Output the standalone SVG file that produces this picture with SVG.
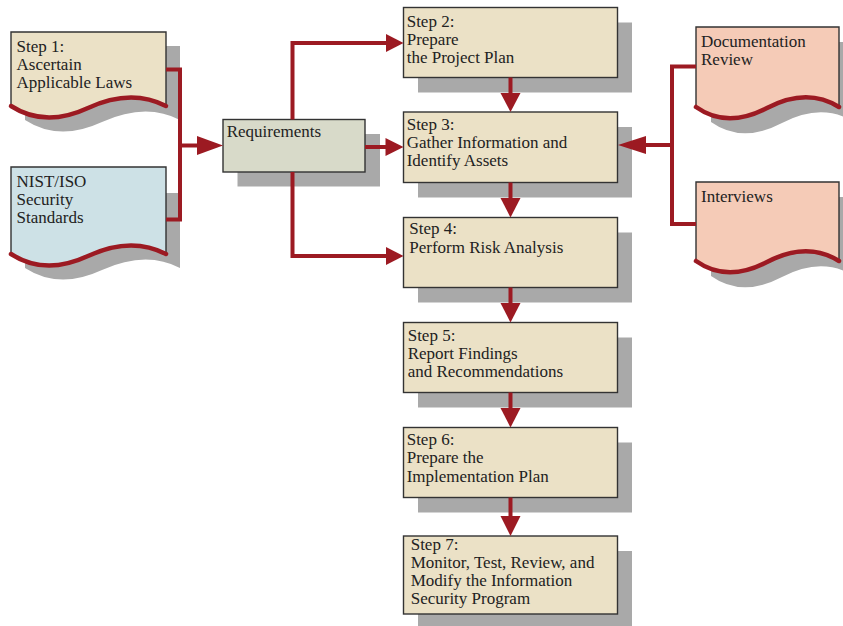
<svg xmlns="http://www.w3.org/2000/svg" width="843" height="626" viewBox="0 0 843 626">
<style>
.sh{fill:#a9a9a9}
.step{fill:#ebe1c6;stroke:#333;stroke-width:1.4}
.req{fill:#d8dac9;stroke:#333;stroke-width:1.4}
.ol{fill:none;stroke:#333;stroke-width:1.4}
.wave{fill:none;stroke:#9c1a22;stroke-width:4.5;stroke-linecap:round}
.beige{fill:#ebe1c6}
.blue{fill:#cde1e6}
.pink{fill:#f5cbb7}
text{font-family:"Liberation Serif","Times New Roman",serif;font-size:17px;fill:#222}
.ln{fill:none;stroke:#9c1a22;stroke-width:4}
.ah{fill:#9c1a22}
</style>
<rect width="843" height="626" fill="#fff"/>
<g id="step1">
<path class="sh" d="M25,46 H180 V120 Q146,102 102,122 Q59,142 25,120 Z"/>
<path class="beige" d="M11,106 V32 H166 V106 Q131,88 88,108 Q45,128 11,106 Z"/>
<path class="ol" d="M11,106 V32 H166 V106"/>
<path class="wave" d="M11,106 Q45,128 88,108 T166,106"/>
<text x="16.5" y="52.3">Step 1:</text>
<text x="16.5" y="70">Ascertain</text>
<text x="16.5" y="88.3">Applicable Laws</text>
</g>
<g id="nist">
<path class="sh" d="M25,193 H180 V268 Q146,250 102,270 Q59,290 25,268 Z"/>
<path class="blue" d="M11,254 V167 H166 V254 Q131,236 88,256 Q45,276 11,254 Z"/>
<path class="ol" d="M11,254 V167 H166 V254"/>
<path class="wave" d="M11,254 Q45,276 88,256 T166,254"/>
<text x="16.5" y="186.7">NIST/ISO</text>
<text x="16.5" y="205">Security</text>
<text x="16.5" y="222.7">Standards</text>
</g>
<g id="requirements">
<rect class="sh" x="237.5" y="134" width="142.5" height="52.5"/>
<rect class="req" x="223" y="119.5" width="142" height="52.5"/>
<text x="226.7" y="137.3">Requirements</text>
</g>
<g id="step2">
<rect class="sh" x="418" y="22.5" width="214" height="70"/>
<rect class="step" x="403.5" y="7.5" width="214" height="70"/>
<text x="406.7" y="26.7">Step 2:</text>
<text x="406.7" y="45">Prepare</text>
<text x="406.7" y="62.7">the Project Plan</text>
</g>
<g id="step3">
<rect class="sh" x="418" y="127" width="214" height="70.5"/>
<rect class="step" x="403.5" y="112" width="214" height="70.5"/>
<text x="406.7" y="130">Step 3:</text>
<text x="406.7" y="148.3">Gather Information and</text>
<text x="406.7" y="166">Identify Assets</text>
</g>
<g id="step4">
<rect class="sh" x="418" y="232.5" width="214" height="70"/>
<rect class="step" x="403.5" y="217.5" width="214" height="70"/>
<text x="409.3" y="234.3">Step 4:</text>
<text x="409.3" y="252.7">Perform Risk Analysis</text>
</g>
<g id="step5">
<rect class="sh" x="418" y="337.5" width="214" height="70"/>
<rect class="step" x="403.5" y="322.5" width="214" height="70"/>
<text x="407.7" y="340.7">Step 5:</text>
<text x="407.7" y="359">Report Findings</text>
<text x="407.7" y="376.7">and Recommendations</text>
</g>
<g id="step6">
<rect class="sh" x="418" y="442.5" width="214" height="70"/>
<rect class="step" x="403.5" y="427.5" width="214" height="70"/>
<text x="406.7" y="445">Step 6:</text>
<text x="406.7" y="463.3">Prepare the</text>
<text x="406.7" y="481.7">Implementation Plan</text>
</g>
<g id="step7">
<rect class="sh" x="418" y="551" width="214" height="78"/>
<rect class="step" x="403.5" y="536" width="214" height="78"/>
<text x="410.7" y="550">Step 7:</text>
<text x="410.7" y="568.3">Monitor, Test, Review, and</text>
<text x="410.7" y="586">Modify the Information</text>
<text x="410.7" y="604">Security Program</text>
</g>
<g id="docreview">
<path class="sh" d="M711,42 H854 V122 Q822,102 782,123 Q742,144 711,122 Z"/>
<path class="pink" d="M696,107 V27 H839 V107 Q807,87 767,108 Q727,129 696,107 Z"/>
<path class="ol" d="M696,107 V27 H839 V107"/>
<path class="wave" d="M696,107 Q727,129 767,108 T839,107"/>
<text x="701" y="47.3">Documentation</text>
<text x="701" y="65">Review</text>
</g>
<g id="interviews">
<path class="sh" d="M711,197 H854 V276 Q822,256 782,277 Q742,298 711,276 Z"/>
<path class="pink" d="M696,261 V182 H839 V261 Q807,241 767,262 Q727,283 696,261 Z"/>
<path class="ol" d="M696,261 V182 H839 V261"/>
<path class="wave" d="M696,261 Q727,283 767,262 T839,261"/>
<text x="701" y="201.7">Interviews</text>
</g>
<g id="connectors">
<path class="ln" d="M166,69.5 H180 V219.5 H166"/>
<path class="ln" d="M180,145.5 H199"/>
<polygon class="ah" points="197,136 223,145.5 197,155"/>
<path class="ln" d="M292.5,119.5 V43 H388"/>
<polygon class="ah" points="386,34 403.5,43 386,52"/>
<path class="ln" d="M365,147 H387"/>
<polygon class="ah" points="385.5,138 403.5,147 385.5,156"/>
<path class="ln" d="M292.5,172 V256 H388"/>
<polygon class="ah" points="386,247 403.5,256 386,265"/>
<path class="ln" d="M510.5,77.5 V95"/>
<polygon class="ah" points="500.5,93 520.5,93 510.5,112"/>
<path class="ln" d="M510.5,182.5 V200"/>
<polygon class="ah" points="500.5,198 520.5,198 510.5,217.5"/>
<path class="ln" d="M510.5,287.5 V305"/>
<polygon class="ah" points="500.5,303 520.5,303 510.5,322.5"/>
<path class="ln" d="M510.5,392.5 V410"/>
<polygon class="ah" points="500.5,408 520.5,408 510.5,427.5"/>
<path class="ln" d="M510.5,497.5 V518"/>
<polygon class="ah" points="500.5,516 520.5,516 510.5,536"/>
<path class="ln" d="M696,66.5 H672 V224 H696"/>
<path class="ln" d="M672,145 H644"/>
<polygon class="ah" points="646,136 618,145 646,154"/>
</g>
</svg>
